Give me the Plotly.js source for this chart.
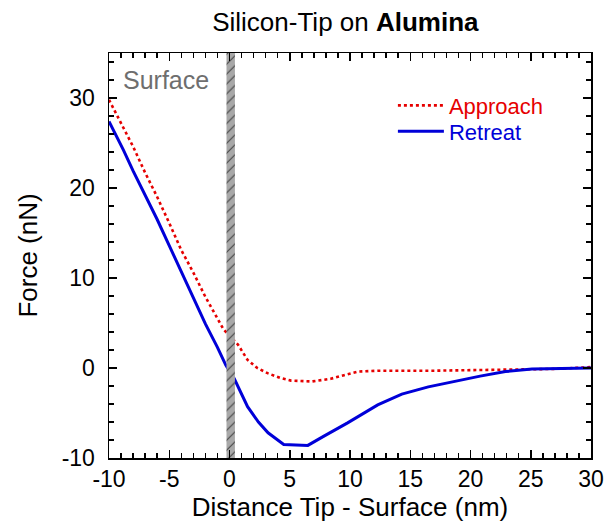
<!DOCTYPE html>
<html>
<head>
<meta charset="utf-8">
<script src="https://cdn.plot.ly/plotly-3.0.1.min.js"></script>
<style>html,body{margin:0;padding:0;background:#fff}#chart{width:607px;height:525px}</style>
</head>
<body>
<div id="chart"></div>
<script>
// Data
const approachX = [-10, -9, -8, -7, -6, -5, -4, -3, -2, -1, -0.5, 0.7, 1.5, 2.3, 3.2, 4.2, 5.1, 6.8, 8.4, 9.5, 10.7, 12.3, 16.9, 22, 27, 30];
const approachY = [29.8, 27.2, 24.6, 21.7, 19.0, 16.1, 13.1, 10.6, 7.9, 5.5, 4.3, 2.6, 0.9, 0.0, -0.6, -1.1, -1.4, -1.5, -1.2, -0.8, -0.4, -0.3, -0.3, -0.2, -0.1, 0.1];
const retreatX = [-10, -9.5, -8.8, -8, -7, -6, -5, -4, -3, -2, -1, -0.3, 0.4, 1.5, 2.4, 3.2, 4.5, 6.5, 7.8, 9.8, 12.3, 14.3, 16.5, 18.6, 20.8, 22.9, 25.1, 30];
const retreatY = [27.4, 26.1, 24.2, 21.9, 19.2, 16.5, 13.6, 10.7, 7.7, 4.9, 2.3, 0.3, -1.2, -4.3, -6.0, -7.2, -8.5, -8.6, -7.6, -6.1, -4.1, -2.9, -2.1, -1.5, -0.9, -0.4, -0.1, 0];
const seriesNames = ["Approach", "Retreat"];
const seriesColors = ["#e60000", "#0000d8"];
const surfaceX = [0.1];        // centre of the surface band (nm)
const surfaceWidth = [0.7];    // band width (nm)
const xRange = [-10, 30];
const yRange = [-10, 35];
const xTickVals = [-10, -5, 0, 5, 10, 15, 20, 25, 30];
const xTickText = ["-10", "-5", "0", "5", "10", "15", "20", "25", "30"];
const yTickVals = [-10, 0, 10, 20, 30];
const yTickText = ["-10", "0", "10", "20", "30"];
const surfaceLabel = {text: "Surface", x: -5.3, y: 32};

const FONT = "Liberation Sans, Arial, sans-serif";

const bandL = surfaceX[0] - surfaceWidth[0] / 2;
const bandR = surfaceX[0] + surfaceWidth[0] / 2;

const traces = [
  {
    x: approachX, y: approachY, name: seriesNames[0], type: "scatter", mode: "lines",
    line: {color: seriesColors[0], width: 2.6, dash: "dot"}, legend: "legend"
  },
  {
    x: retreatX, y: retreatY, name: seriesNames[1], type: "scatter", mode: "lines",
    line: {color: seriesColors[1], width: 3}, legend: "legend2"
  },
  {
    x: [bandL, bandR, bandR, bandL, bandL],
    y: [yRange[0], yRange[0], yRange[1], yRange[1], yRange[0]],
    type: "scatter", mode: "lines", fill: "toself", showlegend: false, hoverinfo: "skip",
    line: {width: 0, color: "rgba(0,0,0,0)"},
    fillcolor: "#a8a8a8",
    fillpattern: {shape: "/", bgcolor: "#a8a8a8", fgcolor: "#404040", size: 7, solidity: 0.15}
  }
];

const axisCommon = {
  showgrid: false, zeroline: false, showline: true, linecolor: "#000", linewidth: 1.5,
  mirror: "allticks", ticks: "inside", ticklen: 8, tickwidth: 1.5, tickcolor: "#000",
  tickmode: "array",
  tickfont: {family: FONT, size: 23, color: "#000"}
};

const legendCommon = {xanchor: "left", yanchor: "top", bgcolor: "rgba(0,0,0,0)", itemwidth: 46};

const layout = {
  width: 607, height: 525,
  margin: {l: 109, r: 16, t: 53, b: 67},
  paper_bgcolor: "#fff", plot_bgcolor: "#fff",
  font: {family: FONT, color: "#000"},
  title: {text: "Silicon-Tip on <b>Alumina</b>", font: {family: FONT, size: 26, color: "#000"},
          x: 0.569, xanchor: "center", y: 0.958, yanchor: "middle", yref: "container"},
  showlegend: true,
  legend: Object.assign({}, legendCommon, {x: 0.589, y: 0.922,
    font: {family: FONT, size: 22, color: seriesColors[0]}}),
  legend2: Object.assign({}, legendCommon, {x: 0.589, y: 0.858,
    font: {family: FONT, size: 22, color: seriesColors[1]}}),
  hovermode: false,
  xaxis: Object.assign({}, axisCommon, {
    range: xRange, tickvals: xTickVals, ticktext: xTickText,
    minor: {dtick: 1, tick0: 0, ticklen: 5, tickwidth: 1.5, tickcolor: "#000", ticks: "inside"},
    title: {text: "Distance Tip - Surface (nm)", font: {family: FONT, size: 26}, standoff: 6}
  }),
  yaxis: Object.assign({}, axisCommon, {
    range: yRange, tickvals: yTickVals, ticktext: yTickText,
    minor: {dtick: 2, tick0: 0, ticklen: 5, tickwidth: 1.5, tickcolor: "#000", ticks: "inside"},
    ticklabelstandoff: 8,
    title: {text: "Force (nN)", font: {family: FONT, size: 26}, standoff: 16}
  }),
  annotations: [{
    text: surfaceLabel.text, x: surfaceLabel.x, y: surfaceLabel.y, xref: "x", yref: "y",
    showarrow: false, font: {family: FONT, size: 25, color: "#6e6e6e"}
  }]
};

Plotly.newPlot("chart", traces, layout, {displayModeBar: false, staticPlot: true});
</script>
</body>
</html>
